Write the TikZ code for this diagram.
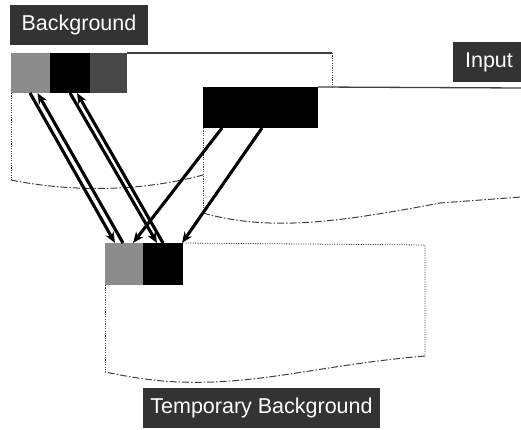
\documentclass[tikz,border=0pt]{standalone}
\usepackage{fontspec}
\setsansfont{Liberation Sans}
\usetikzlibrary{arrows.meta,calc}
\begin{document}
\begin{tikzpicture}[x=1pt,y=-1pt,
  lbl/.style args={#1x#2}{fill=black!80,text=white,font=\sffamily\fontsize{21.5}{24}\selectfont,
    inner sep=0,outer sep=0,anchor=north west,minimum width=#1,minimum height=#2},
  px/.style args={#1x#2}{inner sep=0,outer sep=0,anchor=north west,minimum width=#1,minimum height=#2},
  frm/.style={draw=black!70,line width=0.8pt,dash pattern=on 1.2pt off 1.2pt},
  topln/.style={draw=black!75,line width=1.3pt},
  wavy/.style={draw=black!75,line width=1pt,dash pattern=on 7pt off 2pt on 1.5pt off 2pt},
  arr/.style={line width=3.1pt,-{Stealth[length=11pt,width=9pt]}}]
\useasboundingbox (0,0) rectangle (521,430);

% labels
\node[lbl=138x40] (lbg) at (10,5) {Background};
\node[lbl=72x40] (lin) at (453,42) {Input};
\node[lbl=237x40] (ltmp) at (143,388) {Temporary Background};

% background frame
\node[px=39x40,fill=black!45] (bgA) at (11,53) {};
\node[px=40x40,fill=black] (bgB) at (50,53) {};
\node[px=37x40,fill=black!72] (bgC) at (90,53) {};
\coordinate (bgTR) at (332,53);
\coordinate (bgR) at (332,88);
\coordinate (bgBL) at (11,180);
\coordinate (bgBR) at (203,175);
\draw[topln] (bgC.north east) -- (bgTR);
\draw[frm] (bgTR) -- (bgR);
\draw[frm] (bgA.south west) -- (bgBL);
\draw[wavy] (bgBL) .. controls (70,192) and (140,192) .. (bgBR);

% input frame
\node[px=115x41,fill=black] (inp) at (203,87) {};
\coordinate (inTR) at (521,88);
\coordinate (inBL) at (203,213);
\coordinate (inBR) at (521,197);
\draw[topln] (inp.north east) -- (inTR);
\draw[frm] (inp.south west) -- (inBL);
\draw[wavy] (inBL) .. controls (270,232) and (340,222) .. (440,203) -- (inBR);

% temporary background frame
\node[px=38x42,fill=black!45] (tA) at (105,243) {};
\node[px=40x42,fill=black] (tB) at (143,243) {};
\coordinate (tTR) at (425,245);
\coordinate (tBR) at (425,356);
\coordinate (tBL) at (105,372);
\draw[frm] (tB.north east) -- (tTR) -- (tBR);
\draw[frm] (tA.south west) -- (tBL);
\draw[wavy] (tBR) .. controls (320,365) and (260,385) .. (180,382) .. controls (150,381) and (125,376) .. (tBL);

% arrows
\draw[arr] ([xshift=-0.5pt]bgA.south) -- ([xshift=-9pt]tA.north);
\draw[arr] ([xshift=-1pt]tA.north) -- ([xshift=7pt]bgA.south);
\draw[arr] (bgB.south) -- ([xshift=-6pt]tB.north);
\draw[arr] (tB.north) -- ([xshift=7pt]bgB.south);
\draw[arr] ([xshift=-38.5pt]inp.south) -- ([xshift=9pt]tA.north);
\draw[arr] ([xshift=1.5pt]inp.south) -- ([xshift=19pt]tB.north);
\end{tikzpicture}
\end{document}
